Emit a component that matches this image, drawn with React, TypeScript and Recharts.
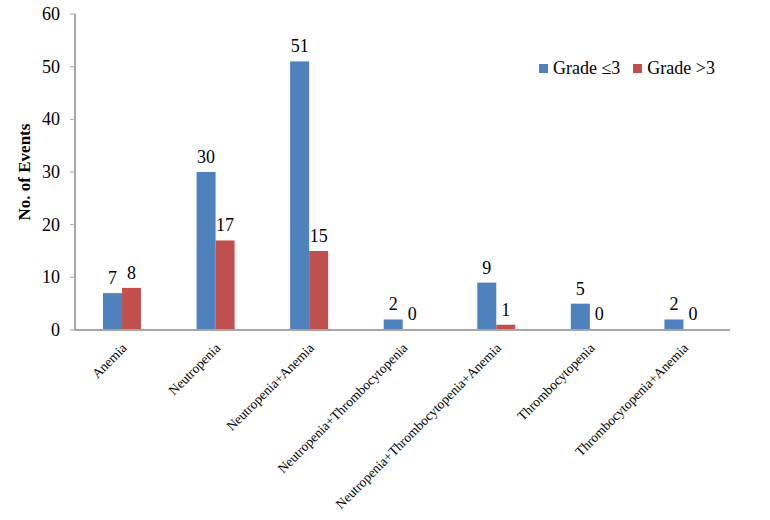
import { BarChart, Bar, XAxis, YAxis, Legend, LabelList } from "recharts";

const categories = [
  "Anemia",
  "Neutropenia",
  "Neutropenia+Anemia",
  "Neutropenia+Thrombocytopenia",
  "Neutropenia+Thrombocytopenia+Anemia",
  "Thrombocytopenia",
  "Thrombocytopenia+Anemia",
];
const gradeLow = [7, 30, 51, 2, 9, 5, 2];
const gradeHigh = [8, 17, 15, 0, 1, 0, 0];
const yTicks = [0, 10, 20, 30, 40, 50, 60];

const data = categories.map((name, i) => ({
  name,
  low: gradeLow[i],
  high: gradeHigh[i],
}));

const FONT = "Liberation Serif";

const XTick = (props: any) => {
  const { x, y, payload } = props;
  return (
    <g transform={`translate(${x + 3},${y + 8})`}>
      <text transform="rotate(-45)" textAnchor="end" fontSize={13.5} fontFamily={FONT} fill="#000" dy={4}>
        {payload.value}
      </text>
    </g>
  );
};

const YTick = (props: any) => {
  const { x, y, payload } = props;
  return (
    <text x={x - 8} y={y} dy={6} textAnchor="end" fontSize={18} fontFamily={FONT} fill="#000">
      {payload.value}
    </text>
  );
};

// value above each bar (zero bars get a 1px invisible stub so they still get a label)
const ValueLabel = (props: any) => {
  const { x, y, width, height, value } = props;
  const top = Math.min(y, y + height);
  return (
    <text x={x + width / 2} y={top - 9} textAnchor="middle" fontSize={18} fontFamily={FONT} fill="#000">
      {value}
    </text>
  );
};

const BarShape = (props: any) => {
  const { x, y, width, height, fill, value } = props;
  const v = Array.isArray(value) ? value[1] - value[0] : value;
  if (!v) return <g />;
  return <rect x={x} y={y} width={width} height={height} fill={fill} />;
};

const LegendContent = (props: any) => {
  const items = [...(props.payload || [])].sort((a: any, b: any) =>
    a.dataKey === "low" ? -1 : b.dataKey === "low" ? 1 : 0
  );
  return (
    <div style={{ display: "flex", alignItems: "center", fontFamily: FONT, fontSize: 18, color: "#000" }}>
      {items.map((it: any) => (
        <div key={it.value} style={{ display: "flex", alignItems: "center", marginRight: 13 }}>
          <span style={{ width: 9, height: 9, background: it.color, marginRight: 5, display: "inline-block" }} />
          {it.value}
        </div>
      ))}
    </div>
  );
};

export default function App() {
  return (
    <div style={{ position: "absolute", left: 0, top: 0, background: "#fff", fontFamily: FONT }}>
      <BarChart
        width={770}
        height={520}
        data={data}
        margin={{ top: 14, right: 40, left: 0, bottom: 0 }}
        barGap={0}
        barSize={19}
      >
        <XAxis
          dataKey="name"
          interval={0}
          tickLine={false}
          axisLine={{ stroke: "#a6a6a6", strokeWidth: 2 }}
          height={190}
          tick={<XTick />}
        />
        <YAxis
          width={75}
          domain={[0, 60]}
          ticks={yTicks}
          interval={0}
          axisLine={{ stroke: "#a6a6a6", strokeWidth: 2 }}
          tickLine={{ stroke: "#a6a6a6" }}
          tickSize={5}
          tick={<YTick />}
          label={{
            value: "No. of Events",
            angle: -90,
            position: "insideLeft",
            offset: 24,
            style: {
              fontSize: 17,
              fontFamily: FONT,
              fontWeight: "bold",
              fill: "#000",
              textAnchor: "middle",
            },
          }}
        />
        <Legend
          verticalAlign="middle"
          layout="horizontal"
          align="center"
          content={<LegendContent />}
          wrapperStyle={{ top: 58, left: 539, width: 230 }}
        />
        <Bar dataKey="low" name="Grade ≤3" fill="#4f81bd" minPointSize={1} shape={<BarShape />} isAnimationActive={false}>
          <LabelList dataKey="low" content={<ValueLabel />} />
        </Bar>
        <Bar dataKey="high" name="Grade >3" fill="#c0504d" minPointSize={1} shape={<BarShape />} isAnimationActive={false}>
          <LabelList dataKey="high" content={<ValueLabel />} />
        </Bar>
      </BarChart>
    </div>
  );
}
